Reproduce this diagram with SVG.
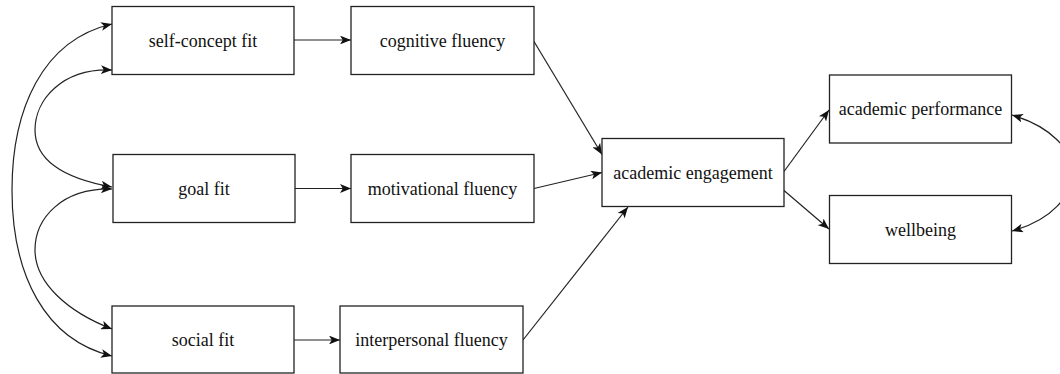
<svg xmlns="http://www.w3.org/2000/svg" width="1060" height="374" viewBox="0 0 1060 374">
  <style>
    .box { fill: #ffffff; stroke: #222222; stroke-width: 1.3; }
    .lbl { font-family: "Liberation Serif", "Times New Roman", serif; font-size: 18px; fill: #111111; text-anchor: middle; dominant-baseline: central; }
    .edge { fill: none; stroke: #222222; stroke-width: 1.2; marker-end: url(#arrow); }
    .edge2 { marker-start: url(#arrow); }
  </style>
  <defs>
    <marker id="arrow" viewBox="0 0 10 8" refX="10" refY="4" markerWidth="11" markerHeight="8.8" markerUnits="userSpaceOnUse" orient="auto-start-reverse">
      <path d="M0,0 L10,4 L0,8 L2.5,4 Z" fill="#111111"/>
    </marker>
  </defs>
  <rect width="1060" height="374" fill="#ffffff"/>

  <g id="connectors">
    <!-- fit to fluency -->
    <line class="edge" x1="294" y1="40" x2="351" y2="40"/>
    <line class="edge" x1="295" y1="188.5" x2="351" y2="188.5"/>
    <line class="edge" x1="294" y1="340" x2="340" y2="340"/>
    <!-- fluency to engagement -->
    <line class="edge" x1="534" y1="41.5" x2="602" y2="154.5"/>
    <line class="edge" x1="534" y1="188.5" x2="602" y2="172.5"/>
    <line class="edge" x1="523" y1="340" x2="628" y2="207"/>
    <!-- engagement to outcomes -->
    <line class="edge" x1="784" y1="171.5" x2="829" y2="110"/>
    <line class="edge" x1="784" y1="190.5" x2="829" y2="229"/>
    <!-- correlations among fit variables -->
    <path class="edge edge2" d="M112,24 C42,40 12,110 12,190 C12,275 45,340 112,356"/>
    <path class="edge edge2" d="M112,70 C62,68 35,100 35,130 C35,160 62,178 112,187"/>
    <path class="edge edge2" d="M112,189 C62,188 35,218 35,250 C35,283 68,312 112,329"/>
    <!-- correlation among outcomes -->
    <path class="edge edge2" d="M1012,115 C1052,127 1072,150 1072,172 C1072,196 1052,220 1012,231"/>
  </g>

  <g id="self-concept-fit">
    <rect class="box" x="112" y="6.5" width="182" height="68"/>
    <text class="lbl" x="203" y="40.5">self-concept fit</text>
  </g>
  <g id="goal-fit">
    <rect class="box" x="113" y="154.5" width="182" height="68"/>
    <text class="lbl" x="204" y="188.5">goal fit</text>
  </g>
  <g id="social-fit">
    <rect class="box" x="112" y="306" width="182" height="67"/>
    <text class="lbl" x="203" y="340">social fit</text>
  </g>
  <g id="cognitive-fluency">
    <rect class="box" x="351" y="6.5" width="183" height="68"/>
    <text class="lbl" x="442.5" y="40.5">cognitive fluency</text>
  </g>
  <g id="motivational-fluency">
    <rect class="box" x="351" y="154.5" width="183" height="68"/>
    <text class="lbl" x="442.5" y="188.5">motivational fluency</text>
  </g>
  <g id="interpersonal-fluency">
    <rect class="box" x="340" y="306" width="183" height="67"/>
    <text class="lbl" x="431.5" y="340">interpersonal fluency</text>
  </g>
  <g id="academic-engagement">
    <rect class="box" x="602" y="138.5" width="182" height="68"/>
    <text class="lbl" x="693" y="172.5">academic engagement</text>
  </g>
  <g id="academic-performance">
    <rect class="box" x="829.5" y="75" width="182" height="68"/>
    <text class="lbl" x="920.5" y="109">academic performance</text>
  </g>
  <g id="wellbeing">
    <rect class="box" x="829.5" y="195.5" width="182" height="68"/>
    <text class="lbl" x="920.5" y="229.5">wellbeing</text>
  </g>
</svg>
